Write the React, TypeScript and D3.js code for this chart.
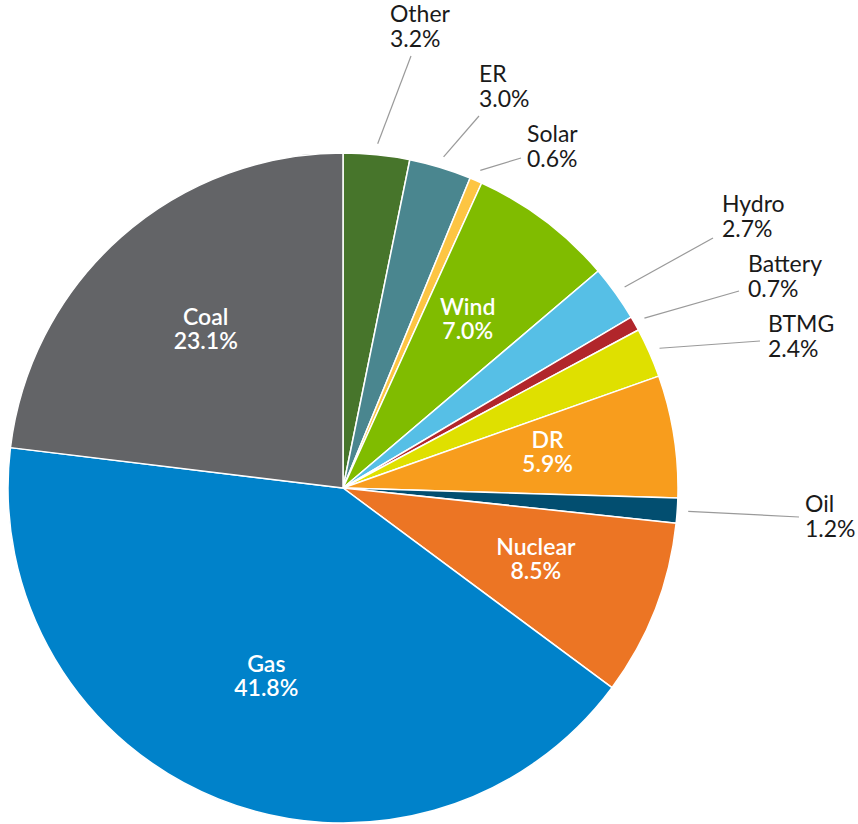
import { arc, pie, PieArcDatum } from "d3";
import React, { useMemo } from "react";

// slices, clockwise from 12 o'clock
const sources = ["Other", "ER", "Solar", "Wind", "Hydro", "Battery", "BTMG", "DR", "Oil", "Nuclear", "Gas", "Coal"];
const shares = [3.2, 3.0, 0.6, 7.0, 2.7, 0.7, 2.4, 5.9, 1.2, 8.5, 41.8, 23.1];
const colors = ["#47752b", "#4a868f", "#fdc543", "#80bc00", "#56bfe6", "#b1262b", "#dfe000", "#f89d1d", "#024e70", "#ec7524", "#0082ca", "#636467"];
const insideLabels = ["Wind", "DR", "Nuclear", "Gas", "Coal"];

// hand placed callouts (relative to pie centre): leader end, text left + first baseline
const callouts: Record<string, { end: [number, number]; text: [number, number] }> = {
	Other: { end: [68, -432], text: [47, -466] },
	ER: { end: [136, -372], text: [136, -406] },
	Solar: { end: [178, -330], text: [184, -346] },
	Hydro: { end: [370, -250], text: [379, -276] },
	Battery: { end: [396, -197], text: [405, -216] },
	BTMG: { end: [417, -147], text: [425, -156] },
	Oil: { end: [456, 29], text: [462, 24] },
};

const W = 858;
const H = 824;
const cx = 343;
const cy = 488;
const R = 335;

type Row = { name: string; value: number; color: string };

const App: React.FC = () => {
	const rows: Row[] = sources.map((name, i) => ({ name, value: shares[i], color: colors[i] }));

	const arcs = useMemo(
		() =>
			pie<Row>()
				.value((d) => d.value)
				.sort(null)(rows),
		[],
	);

	const slice = arc<PieArcDatum<Row>>().innerRadius(0).outerRadius(R);
	const labelArc = arc<PieArcDatum<Row>>().innerRadius(207).outerRadius(207);
	const leaderArc = arc<PieArcDatum<Row>>().innerRadius(R + 11).outerRadius(R + 11);

	return (
		<svg width={W} height={H} style={{ position: "absolute", left: 0, top: 0 }} fontFamily="Lato, 'Open Sans', sans-serif">
			<g transform={`translate(${cx}, ${cy})`}>
				{arcs.map((a, i) => (
					<path key={i} d={slice(a) || ""} fill={a.data.color} stroke="#fff" strokeWidth={1.5} strokeLinejoin="round" />
				))}
				{arcs
					.filter((a) => insideLabels.includes(a.data.name))
					.map((a, i) => {
						const [x, y] = labelArc.centroid(a);
						return (
							<text key={i} x={x} y={y} textAnchor="middle" fill="#fff" fontSize={23} fontWeight={600}>
								<tspan x={x} y={y - 8}>
									{a.data.name}
								</tspan>
								<tspan x={x} y={y + 16}>
									{a.data.value.toFixed(1)}%
								</tspan>
							</text>
						);
					})}
				{arcs
					.filter((a) => callouts[a.data.name])
					.map((a, i) => {
						const c = callouts[a.data.name];
						const [sx, sy] = leaderArc.centroid(a);
						return (
							<g key={i}>
								<line x1={sx} y1={sy} x2={c.end[0]} y2={c.end[1]} stroke="#9a9a9a" strokeWidth={1.2} />
								<text x={c.text[0]} y={c.text[1]} fill="#1a1a1a" fontSize={23}>
									<tspan x={c.text[0]}>{a.data.name}</tspan>
									<tspan x={c.text[0]} dy={25}>
										{a.data.value.toFixed(1)}%
									</tspan>
								</text>
							</g>
						);
					})}
			</g>
		</svg>
	);
};

export default App;
